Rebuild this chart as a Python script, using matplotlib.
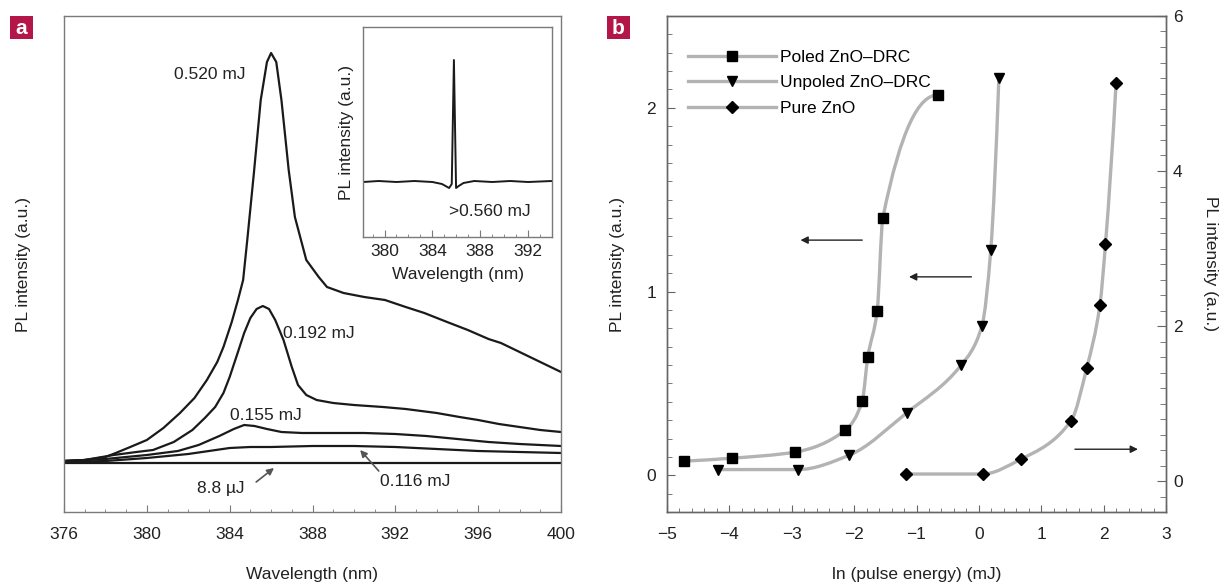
import numpy as np
import matplotlib
matplotlib.use('Agg')
import matplotlib.pyplot as plt
from matplotlib.path import Path
from matplotlib.patches import PathPatch, Rectangle
from matplotlib.lines import Line2D
from matplotlib.ticker import MultipleLocator

plt.rcParams['font.family'] = ['Liberation Sans', 'DejaVu Sans']
plt.rcParams['font.size'] = 12.5

# --- panel a: PL spectra, wavelength (nm) vs intensity (a.u.)
wl_520 = [376.0, 377.0, 378.0, 378.5, 379.2, 380.0, 380.8, 381.6, 382.3, 382.9, 383.4, 383.7,
          384.1, 384.4, 384.65, 384.85, 385.17, 385.5, 385.8, 386.0, 386.25, 386.5, 386.85,
          387.15, 387.7, 388.3, 388.7, 389.5, 390.5, 391.5, 392.5, 393.4, 394.5, 395.5,
          396.5, 397.1, 398.0, 399.0, 400.0]
pl_520 = [0.51, 0.52, 0.55, 0.59, 0.65, 0.72, 0.84, 0.99, 1.14, 1.32, 1.50, 1.65,
          1.90, 2.12, 2.32, 2.72, 3.39, 4.12, 4.50, 4.59, 4.50, 4.12, 3.42,
          2.95, 2.52, 2.35, 2.25, 2.19, 2.15, 2.12, 2.05, 1.99, 1.90, 1.82,
          1.73, 1.69, 1.60, 1.50, 1.40]

wl_192 = [376.0, 377.0, 378.4, 379.5, 380.3, 381.3, 382.2, 382.8, 383.3, 383.7, 384.0, 384.4,
          384.7, 385.0, 385.3, 385.6, 385.9, 386.2, 386.6, 387.0, 387.3, 387.7, 388.2,
          389.0, 390.0, 391.4, 392.5, 394.0, 395.1, 396.0, 397.0, 398.0, 399.0, 400.0]
pl_192 = [0.51, 0.52, 0.57, 0.60, 0.62, 0.70, 0.82, 0.94, 1.05, 1.19, 1.35, 1.60,
          1.79, 1.94, 2.03, 2.06, 2.03, 1.92, 1.72, 1.45, 1.27, 1.17, 1.12,
          1.09, 1.07, 1.05, 1.03, 0.99, 0.95, 0.92, 0.88, 0.85, 0.82, 0.80]

wl_155 = [376, 378, 380, 381.5, 382.5, 383.5, 384.2, 384.7, 385.2, 385.8, 386.5, 387.5,
          389, 390.5, 392, 393.5, 395, 396.5, 398, 400]
pl_155 = [0.51, 0.53, 0.57, 0.61, 0.67, 0.76, 0.83, 0.87, 0.86, 0.83, 0.80, 0.79,
          0.79, 0.79, 0.78, 0.76, 0.73, 0.70, 0.68, 0.66]

wl_116 = [376, 378, 380, 382, 383, 384, 385, 386, 388, 390, 392, 394, 396, 398, 400]
pl_116 = [0.50, 0.51, 0.54, 0.58, 0.61, 0.64, 0.65, 0.65, 0.66, 0.66, 0.65, 0.63, 0.61, 0.60, 0.59]

wl_88 = [376, 388, 400]
pl_88 = [0.49, 0.49, 0.49]

# inset: above threshold
wl_las = [378.2, 379.5, 381, 382.5, 384, 384.8, 385.4, 385.62, 385.8, 385.98, 386.2, 386.6,
          387.5, 389, 390.5, 392, 394]
pl_las = [0.55, 0.56, 0.55, 0.56, 0.55, 0.53, 0.49, 0.53, 1.77, 0.49, 0.51, 0.54,
          0.56, 0.55, 0.56, 0.55, 0.56]

# --- panel b: ln(pulse energy) vs PL intensity
lnE_poled = [-4.72, -3.96, -2.95, -2.14, -1.87, -1.78, -1.63, -1.54, -0.66]
pl_poled = [0.077, 0.093, 0.126, 0.246, 0.404, 0.645, 0.896, 1.40, 2.07]
lnE_unpoled = [-4.19, -2.90, -2.08, -1.16, -0.28, 0.05, 0.19, 0.32]
pl_unpoled = [0.031, 0.031, 0.109, 0.339, 0.601, 0.814, 1.224, 2.16]
lnE_pure = [-1.17, 0.06, 0.67, 1.48, 1.73, 1.94, 2.03, 2.20]
pl_pure = [0.09, 0.09, 0.28, 0.78, 1.46, 2.27, 3.06, 5.14]   # right axis


def end_slope(h0, h1, d0, d1):
    s = ((2 * h0 + h1) * d0 - h0 * d1) / (h0 + h1)
    if np.sign(s) != np.sign(d0):
        s = 0.0
    elif np.sign(d0) != np.sign(d1) and abs(s) > abs(3 * d0):
        s = 3 * d0
    return s


def smooth_path(x, y):
    # monotone cubic through the points, drawn as bezier segments
    x = np.asarray(x, float)
    y = np.asarray(y, float)
    h = np.diff(x)
    d = np.diff(y) / h
    m = np.zeros_like(x)
    for k in range(1, len(x) - 1):
        if d[k - 1] * d[k] > 0:
            w1 = 2 * h[k] + h[k - 1]
            w2 = h[k] + 2 * h[k - 1]
            m[k] = (w1 + w2) / (w1 / d[k - 1] + w2 / d[k])
    m[0] = end_slope(h[0], h[1], d[0], d[1])
    m[-1] = end_slope(h[-1], h[-2], d[-1], d[-2])
    verts = [(x[0], y[0])]
    codes = [Path.MOVETO]
    for k in range(len(h)):
        verts += [(x[k] + h[k] / 3, y[k] + m[k] * h[k] / 3),
                  (x[k + 1] - h[k] / 3, y[k + 1] - m[k + 1] * h[k] / 3),
                  (x[k + 1], y[k + 1])]
        codes += [Path.CURVE4] * 3
    return Path(verts, codes)


W, H = 1221, 586
fig = plt.figure(figsize=(W / 100, H / 100), dpi=100)

spine_a = '#7a7a7a'
spine_b = '#666666'
txt = '#222222'
badge = '#b5164a'

# ---------------- panel a
ax = fig.add_axes([64 / W, 74 / H, 497 / W, 496 / H])
for wl, pl in [(wl_520, pl_520), (wl_192, pl_192), (wl_155, pl_155), (wl_116, pl_116), (wl_88, pl_88)]:
    ax.plot(wl, pl, color='#1a1a1a', lw=1.6)
ax.set_xlim(376, 400)
ax.set_ylim(0, 4.96)
ax.xaxis.set_major_locator(MultipleLocator(4))
ax.xaxis.set_minor_locator(MultipleLocator(1))
ax.set_yticks([])
ax.tick_params(axis='x', which='both', direction='in', top=False, color=spine_a, labelcolor=txt, pad=11)
ax.tick_params(axis='x', which='major', length=5)
ax.tick_params(axis='x', which='minor', length=2.5)
for s in ax.spines.values():
    s.set_color(spine_a)
    s.set_linewidth(1.0)
ax.set_xlabel('Wavelength (nm)', color=txt)
ax.set_ylabel('PL intensity (a.u.)', color=txt)
ax.xaxis.set_label_coords(0.5, -0.111)
ax.yaxis.set_label_coords(-0.066, 0.5)

ax.text(383.05, 4.37, '0.520 mJ', ha='center', va='center', color=txt)
ax.text(388.32, 1.79, '0.192 mJ', ha='center', va='center', color=txt)
ax.text(385.76, 0.97, '0.155 mJ', ha='center', va='center', color=txt)
ax.text(383.58, 0.24, '8.8 µJ', ha='center', va='center', color=txt)
ax.text(392.96, 0.30, '0.116 mJ', ha='center', va='center', color=txt)
aprops = dict(arrowstyle='-|>', color='#555555', lw=1.2, mutation_scale=10, shrinkA=0, shrinkB=0)
ax.annotate('', xy=(386.14, 0.44), xytext=(385.28, 0.30), arrowprops=aprops)
ax.annotate('', xy=(390.3, 0.62), xytext=(391.2, 0.41), arrowprops=aprops)

# inset
axi = fig.add_axes([363 / W, (H - 237) / H, 189 / W, 210 / H])
axi.plot(wl_las, pl_las, color='#1a1a1a', lw=1.4)
axi.set_xlim(378.2, 394.0)
axi.set_ylim(0, 2.10)
axi.xaxis.set_major_locator(MultipleLocator(4))
axi.xaxis.set_minor_locator(MultipleLocator(1))
axi.set_yticks([])
axi.tick_params(axis='x', which='both', direction='in', top=False, color=spine_a, labelcolor=txt, pad=5)
axi.tick_params(axis='x', which='major', length=5)
axi.tick_params(axis='x', which='minor', length=2.5)
for s in axi.spines.values():
    s.set_color(spine_a)
    s.set_linewidth(1.0)
axi.set_xlabel('Wavelength (nm)', color=txt)
axi.set_ylabel('PL intensity (a.u.)', color=txt)
axi.xaxis.set_label_coords(0.5, -0.143)
axi.yaxis.set_label_coords(-0.048, 0.5)
axi.text(388.8, 0.25, '>0.560 mJ', ha='center', va='center', color=txt)

# ---------------- panel b
axb = fig.add_axes([667 / W, 74 / H, 499 / W, 496 / H])
axr = axb.twinx()
grey = '#b3b3b3'
axb.add_patch(PathPatch(smooth_path(lnE_poled, pl_poled), fill=False, edgecolor=grey, lw=2.4))
axb.add_patch(PathPatch(smooth_path(lnE_unpoled, pl_unpoled), fill=False, edgecolor=grey, lw=2.4))
axr.add_patch(PathPatch(smooth_path(lnE_pure, pl_pure), fill=False, edgecolor=grey, lw=2.4))
axb.plot(lnE_poled, pl_poled, 's', color='black', ms=6.5, zorder=3)
axb.plot(lnE_unpoled, pl_unpoled, 'v', color='black', ms=7, zorder=3)
axr.plot(lnE_pure, pl_pure, 'D', color='black', ms=6, zorder=3)

axb.set_xlim(-5, 3)
axb.set_ylim(-0.2, 2.5)
axr.set_ylim(-0.4, 6.0)
axb.xaxis.set_major_locator(MultipleLocator(1))
axb.xaxis.set_minor_locator(MultipleLocator(0.2))
axb.yaxis.set_major_locator(MultipleLocator(1))
axb.yaxis.set_minor_locator(MultipleLocator(0.1))
axr.yaxis.set_major_locator(MultipleLocator(2))
axr.yaxis.set_minor_locator(MultipleLocator(0.2))

axb.tick_params(axis='both', which='both', direction='in', top=False, right=False,
                color=spine_b, labelcolor=txt)
axb.tick_params(axis='x', which='major', length=5, pad=11)
axb.tick_params(axis='x', which='minor', length=2.7)
axb.tick_params(axis='y', which='major', length=5.8, pad=8)
axb.tick_params(axis='y', which='minor', length=3.6)
axr.tick_params(axis='y', which='both', direction='in', color=spine_b, labelcolor=txt)
axr.tick_params(axis='y', which='major', length=6.5, pad=5)
axr.tick_params(axis='y', which='minor', length=4)
for a in (axb, axr):
    for s in a.spines.values():
        s.set_color(spine_b)
        s.set_linewidth(1.0)

axb.set_xlabel('ln (pulse energy) (mJ)', color=txt)
axb.set_ylabel('PL intensity (a.u.)', color=txt)
axr.set_ylabel('PL intensity (a.u.)', rotation=270, color=txt)
axb.xaxis.set_label_coords(0.5, -0.111)
axb.yaxis.set_label_coords(-0.084, 0.5)
axr.yaxis.set_label_coords(1.104, 0.5)

bprops = dict(arrowstyle='-|>', color='#222222', lw=1.0, mutation_scale=11, shrinkA=0, shrinkB=0)
axb.annotate('', xy=(-2.86, 1.28), xytext=(-1.87, 1.28), arrowprops=bprops)
axb.annotate('', xy=(-1.12, 1.08), xytext=(-0.12, 1.08), arrowprops=bprops)
axr.annotate('', xy=(2.55, 0.41), xytext=(1.54, 0.41), arrowprops=bprops)

handles = [Line2D([], [], color=grey, lw=2.4, marker='s', ms=6.5, mfc='black', mec='black'),
           Line2D([], [], color=grey, lw=2.4, marker='v', ms=7, mfc='black', mec='black'),
           Line2D([], [], color=grey, lw=2.4, marker='D', ms=6, mfc='black', mec='black')]
axb.legend(handles, ['Poled ZnO–DRC', 'Unpoled ZnO–DRC', 'Pure ZnO'], loc='upper left',
           bbox_to_anchor=(0.042, 0.932), frameon=False, borderpad=0, borderaxespad=0,
           handlelength=5.1, handletextpad=0.2, labelspacing=0.6, numpoints=1)

# panel badges
for x0, letter in [(10, 'a'), (607, 'b')]:
    fig.add_artist(Rectangle((x0 / W, 1 - 39 / H), 23 / W, 23 / H, transform=fig.transFigure,
                             facecolor=badge, edgecolor='none'))
    fig.text((x0 + 11.5) / W, 1 - 28 / H, letter, color='white', fontweight='bold',
             fontsize=15, ha='center', va='center')

fig.savefig('out.png', dpi=100)
